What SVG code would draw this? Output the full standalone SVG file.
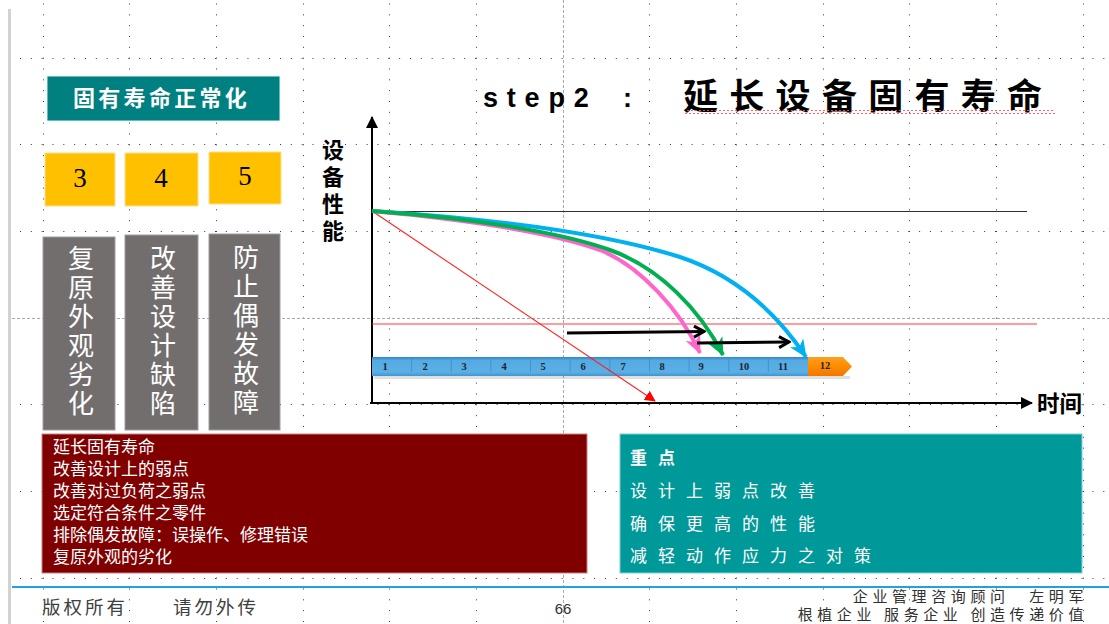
<svg xmlns="http://www.w3.org/2000/svg" width="1109" height="624" viewBox="0 0 1109 624">
<defs>
<style>
.cjk{font-family:"Noto Sans CJK SC","Microsoft YaHei",sans-serif}
.lat{font-family:"Liberation Sans",Arial,sans-serif}
.ser{font-family:"Liberation Serif","Times New Roman",serif}
.wt{fill:#FFFFFF}
.grid{stroke:#3a3a3a;stroke-width:1;fill:none;stroke-dasharray:1 9.833}
.guide{stroke:#A8A8A8;stroke-width:1;fill:none;stroke-dasharray:3 2}
.yel{fill:#FFC000;stroke:#FFE08A;stroke-width:1}
.gry{fill:#736E6E;stroke:#A09C9C;stroke-width:1}
.vert{writing-mode:vertical-rl;text-orientation:upright}
.vch{font-size:26px;letter-spacing:3px}
.num{font-size:27px;fill:#000}
.tl{font-size:10.5px;font-weight:bold;fill:#1b2433;text-anchor:middle}
.sep{stroke:#3C7DB0;stroke-width:1;opacity:.55}
.redtxt{font-size:17px;fill:#FFFFFF}
.kp{font-size:17px;fill:#FFFFFF;letter-spacing:11px}
.foot{font-size:15px;letter-spacing:4.6px;fill:#303030;text-anchor:end}
</style>
<linearGradient id="barG" x1="0" y1="0" x2="0" y2="1">
<stop offset="0" stop-color="#2F86CB"/>
<stop offset="0.18" stop-color="#55AAE2"/>
<stop offset="0.8" stop-color="#5AAFE4"/>
<stop offset="1" stop-color="#3F95D3"/>
</linearGradient>
<linearGradient id="orG" x1="0" y1="0" x2="0" y2="1">
<stop offset="0" stop-color="#FFA020"/>
<stop offset="0.5" stop-color="#FF8C00"/>
<stop offset="1" stop-color="#F07600"/>
</linearGradient>
<pattern id="wave" width="4" height="4" patternUnits="userSpaceOnUse">
<path d="M0,3 L2,1 L4,3" fill="none" stroke="#FF5050" stroke-width="0.9"/>
</pattern>
<marker id="mBlack" viewBox="0 0 12 12" refX="11" refY="6" markerWidth="12" markerHeight="12" markerUnits="userSpaceOnUse" orient="auto">
<path d="M0,0 L12,6 L0,12 z" fill="#000"/>
</marker>
<marker id="mRed" viewBox="0 0 12 12" refX="11" refY="6" markerWidth="11" markerHeight="11" markerUnits="userSpaceOnUse" orient="auto">
<path d="M0,0 L12,6 L0,12 z" fill="#FF0000"/>
</marker>
<marker id="mOpen" viewBox="0 0 14 14" refX="12" refY="7" markerWidth="14" markerHeight="14" markerUnits="userSpaceOnUse" orient="auto">
<path d="M2,1.5 L12,7 L2,12.5" fill="none" stroke="#000" stroke-width="3" stroke-linejoin="miter"/>
</marker>
<marker id="mPink" viewBox="0 0 18 16" refX="17" refY="8" markerWidth="18" markerHeight="16" markerUnits="userSpaceOnUse" orient="auto">
<path d="M0,0 L18,8 L0,16 L5,8 z" fill="#FF66CC"/>
</marker>
<marker id="mGreen" viewBox="0 0 18 16" refX="17" refY="8" markerWidth="18" markerHeight="16" markerUnits="userSpaceOnUse" orient="auto">
<path d="M0,0 L18,8 L0,16 L5,8 z" fill="#00B050"/>
</marker>
<marker id="mBlue" viewBox="0 0 18 16" refX="17" refY="8" markerWidth="18" markerHeight="16" markerUnits="userSpaceOnUse" orient="auto">
<path d="M0,0 L18,8 L0,16 L5,8 z" fill="#00B0F0"/>
</marker>
</defs>

<rect width="1109" height="624" fill="#FFFFFF"/>

<g id="background">
<rect x="8" y="9" width="3" height="615" fill="#D2D2D2"/>
<path class="grid" d="M43.5,3.5V624 M129.5,3.5V624 M216.5,3.5V624 M303.5,3.5V624 M389.5,3.5V624 M476.5,3.5V624 M649.5,3.5V624 M736.5,3.5V624 M823.5,3.5V624 M909.5,3.5V624 M996.5,3.5V624 M1083.5,3.5V624"/>
<path class="grid" d="M20,58.5H1109 M20,144.5H1109 M20,231.5H1109 M20,404.5H1109 M20,491.5H1109 M20,578.5H1109"/>
<path class="guide" d="M12,318.5H1109 M563.5,0V624"/>
<rect x="12" y="586" width="1097" height="2" fill="#1FA3E0"/>
</g>

<g id="title">
<text class="lat" x="483" y="107" font-size="27" font-weight="bold" letter-spacing="8.8" fill="#000">step2<tspan x="623">:</tspan></text>
<text class="cjk" x="683" y="109" font-size="35" font-weight="bold" letter-spacing="11.3" fill="#000">延长设备固有寿命</text>
<rect x="685" y="110" width="370" height="4" fill="url(#wave)"/>
</g>

<g id="header-normalize">
<rect x="47" y="76" width="233" height="45" fill="#008080" stroke="#E0F0F0" stroke-width="1"/>
<text class="cjk wt" x="73" y="106" font-size="22" font-weight="bold" letter-spacing="3.3">固有寿命正常化</text>
</g>

<g id="box-3">
<rect class="yel" x="45" y="153" width="70" height="53"/>
<text class="ser num" x="80" y="187" text-anchor="middle">3</text>
</g>
<g id="box-4">
<rect class="yel" x="125" y="153" width="73" height="53"/>
<text class="ser num" x="161" y="187" text-anchor="middle">4</text>
</g>
<g id="box-5">
<rect class="yel" x="209" y="152" width="72" height="52"/>
<text class="ser num" x="245" y="185" text-anchor="middle">5</text>
</g>

<g id="col-restore">
<rect class="gry" x="43" y="237" width="72" height="193"/>
<text class="cjk wt vch vert" x="81" y="245">复原外观劣化</text>
</g>
<g id="col-improve">
<rect class="gry" x="125" y="235" width="73" height="195"/>
<text class="cjk wt vch vert" x="163" y="245">改善设计缺陷</text>
</g>
<g id="col-prevent">
<rect class="gry" x="209" y="234" width="71" height="196"/>
<text class="cjk wt vch vert" x="246" y="244">防止偶发故障</text>
</g>

<g id="chart-axes">
<line x1="372" y1="404" x2="372" y2="117" stroke="#000" stroke-width="2" marker-end="url(#mBlack)"/>
<line x1="370" y1="403" x2="1032" y2="403" stroke="#000" stroke-width="2" marker-end="url(#mBlack)"/>
<text class="cjk vert" x="333" y="139" font-size="22" font-weight="bold" letter-spacing="5" fill="#000">设备性能</text>
<text class="cjk" x="1037" y="412" font-size="22.5" font-weight="bold" fill="#000">时间</text>
<line x1="372" y1="211.5" x2="1027" y2="211.5" stroke="#303030" stroke-width="1"/>
<line x1="372" y1="324" x2="1037" y2="324" stroke="#FF3C3C" stroke-width="1.2"/>
</g>

<g id="timeline">
<rect x="374" y="376" width="476" height="3" fill="#000" opacity="0.12"/>
<rect x="372" y="357" width="436" height="19" fill="url(#barG)"/>
<path d="M808,357 H843 L852,366.5 L843,376 H808 Z" fill="url(#orG)"/>
<path class="sep" d="M411.6,359V372 M451.3,359V372 M490.9,359V372 M530.5,359V372 M570.2,359V372 M609.8,359V372 M649.5,359V372 M689.1,359V372 M728.8,359V372 M768.4,359V372"/>
<g class="ser tl">
<text x="385" y="370">1</text>
<text x="425" y="370">2</text>
<text x="464" y="370">3</text>
<text x="504" y="370">4</text>
<text x="543" y="370">5</text>
<text x="583" y="370">6</text>
<text x="623" y="370">7</text>
<text x="662" y="370">8</text>
<text x="701" y="370">9</text>
<text x="744" y="370">10</text>
<text x="783" y="370">11</text>
<text x="825" y="369">12</text>
</g>
</g>

<g id="connectors">
<line x1="372" y1="211" x2="655" y2="401" stroke="#FF2020" stroke-width="1.1" marker-end="url(#mRed)"/>
<path d="M372,211 C480,218 600,232 680,257 C740,277 780,318 806,357" fill="none" stroke="#00B0F0" stroke-width="4" marker-end="url(#mBlue)"/>
<path d="M372,211 C470,220 550,232 600,250 C640,266 680,310 700,353" fill="none" stroke="#FF66CC" stroke-width="4" marker-end="url(#mPink)"/>
<path d="M372,211 C470,218 560,232 610,250 C660,268 700,310 723,355" fill="none" stroke="#00B050" stroke-width="4" marker-end="url(#mGreen)"/>
<line x1="567" y1="333" x2="704" y2="331.5" stroke="#000" stroke-width="3" marker-end="url(#mOpen)"/>
<line x1="697" y1="343" x2="789" y2="342" stroke="#000" stroke-width="3" marker-end="url(#mOpen)"/>
</g>

<g id="summary-box">
<rect x="42" y="434" width="545" height="139" fill="#800000" stroke="#C88080" stroke-width="1"/>
<text class="cjk redtxt" x="53" y="453">延长固有寿命</text>
<text class="cjk redtxt" x="53" y="474.5">改善设计上的弱点</text>
<text class="cjk redtxt" x="53" y="496.5">改善对过负荷之弱点</text>
<text class="cjk redtxt" x="53" y="518.5">选定符合条件之零件</text>
<text class="cjk redtxt" x="53" y="540.5">排除偶发故障：误操作、修理错误</text>
<text class="cjk redtxt" x="53" y="562.5">复原外观的劣化</text>
</g>

<g id="key-points">
<rect x="620" y="434" width="462" height="139" fill="#009999" stroke="#7FD0D0" stroke-width="1"/>
<text class="cjk kp" x="630" y="464" font-weight="bold" letter-spacing="4">重点</text>
<text class="cjk kp" x="630" y="497">设计上弱点改善</text>
<text class="cjk kp" x="630" y="530">确保更高的性能</text>
<text class="cjk kp" x="630" y="562">减轻动作应力之对策</text>
</g>

<g id="footer">
<text class="cjk" x="42" y="614" font-size="18.5" letter-spacing="3" fill="#404040">版权所有</text>
<text class="cjk" x="173" y="614" font-size="18.5" letter-spacing="3" fill="#404040">请勿外传</text>
<text class="lat" x="563" y="614" font-size="15" text-anchor="middle" fill="#303030">66</text>
<text class="cjk foot" x="1088" y="602">企业管理咨询顾问　左明军</text>
<text class="cjk foot" x="1088" y="620">根植企业 服务企业 创造传递价值</text>
</g>
</svg>
